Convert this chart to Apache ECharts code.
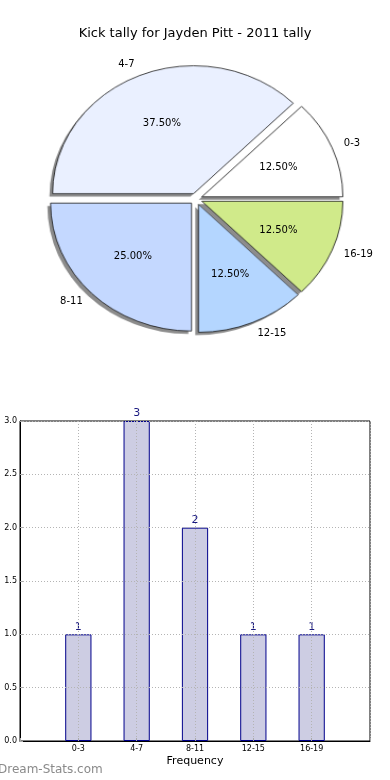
<!DOCTYPE html>
<html>
<head>
<meta charset="utf-8">
<script src="https://cdn.jsdelivr.net/npm/echarts@6/dist/echarts.min.js"></script>
<style>
html,body{margin:0;padding:0;background:#fff;}
#wrap{position:relative;width:390px;height:780px;overflow:hidden;}
#pie{position:absolute;left:0;top:0;width:390px;height:400px;
  transform-origin:196px 199px;transform:scale(1.06,0.962);}
#c{position:absolute;left:0;top:0;width:390px;height:780px;}
</style>
</head>
<body>
<div id="wrap"><div id="pie"></div><div id="c"></div></div>
<script>
const titleText = 'Kick tally for Jayden Pitt - 2011 tally';
const categories = ['0-3', '4-7', '8-11', '12-15', '16-19'];
const counts = [1, 3, 2, 1, 1];
const sliceColors = ['#ffffff', '#eaf0ff', '#c4d8ff', '#b4d6ff', '#d0ea8a'];

const CX = 196, CY = 199, R = 133, SX = 1.06, SY = 0.962;
const FONT = 'DejaVu Sans';

const pieCommon = {
  type: 'pie', startAngle: 0, clockwise: false,
  selectedMode: 'multiple', selectedOffset: 6,
  emphasis: {disabled: true}
};
const mk = (extra) => categories.map((c, i) => Object.assign({name: c, value: counts[i], selected: true}, extra ? extra(i) : {}));

// ---- pie wedges (elliptical via container scale) ----
const pieChart = echarts.init(document.getElementById('pie'), null, {renderer: 'canvas'});
pieChart.setOption({
  animation: false,
  series: [
    Object.assign({}, pieCommon, {
      center: [CX - 3, CY + 3], radius: [0, R], z: 1, silent: true,
      data: mk(),
      itemStyle: {color: '#8c8c8c', borderWidth: 0},
      label: {show: false}, labelLine: {show: false}
    }),
    Object.assign({}, pieCommon, {
      center: [CX, CY], radius: [0, R], z: 2, silent: true,
      data: mk(i => ({itemStyle: {color: sliceColors[i]}})),
      itemStyle: {borderColor: '#111', borderWidth: 0.8},
      label: {show: false}, labelLine: {show: false}
    })
  ]
});

// ---- main layer: title, labels, bars ----
const xCats = [''].concat(categories).concat(['']);
const barData = ['-'].concat(counts).concat(['-']);

function ellipseShift(outside) {
  return function (p) {
    const r = p.labelRect;
    const cx = r.x + r.width / 2;
    const cy = r.y + r.height / 2;
    let ax = cx, extra = 0;
    if (outside) {
      const right = cx > CX;
      ax = right ? r.x : r.x + r.width;
      extra = right ? -5 : 5;
    }
    return {dx: (ax - CX) * (SX - 1) + extra, dy: (cy - CY) * (SY - 1)};
  };
}

const chart = echarts.init(document.getElementById('c'), null, {renderer: 'canvas'});
chart.setOption({
  animation: false,
  textStyle: {fontFamily: FONT},
  title: {
    text: titleText, left: 'center', top: 22,
    textStyle: {fontFamily: FONT, fontSize: 13, fontWeight: 'normal', color: '#000'}
  },
  graphic: [{
    type: 'text', left: -2, top: 764,
    style: {text: 'Dream-Stats.com', fill: '#8a8a8a', font: '12px "DejaVu Sans"'}
  }],
  grid: {
    left: 20, right: 20, top: 421, bottom: 39,
    show: true, borderColor: '#000', borderWidth: 1, backgroundColor: 'transparent'
  },
  xAxis: {
    type: 'category', data: xCats, boundaryGap: false, z: 5,
    name: 'Frequency', nameLocation: 'middle', nameGap: 15,
    nameTextStyle: {fontFamily: FONT, fontSize: 11, color: '#000'},
    axisLine: {lineStyle: {color: '#000', width: 1}},
    axisTick: {show: true, inside: true, length: 3, lineStyle: {color: '#aaa'}},
    axisLabel: {interval: 0, fontSize: 8, color: '#000', margin: 4, fontFamily: FONT},
    splitLine: {show: true, interval: 0, lineStyle: {color: '#b4b4b4', type: [1, 2], width: 1}}
  },
  yAxis: {
    type: 'value', min: 0, max: 3, interval: 0.5, z: 5,
    axisLine: {show: true, lineStyle: {color: '#000', width: 1}},
    axisTick: {show: true, inside: true, length: 3, lineStyle: {color: '#aaa'}},
    axisLabel: {fontSize: 8, color: '#000', margin: 3, fontFamily: FONT,
      formatter: v => v.toFixed(1)},
    splitLine: {show: true, lineStyle: {color: '#b4b4b4', type: [1, 2], width: 1}}
  },
  series: [
    {
      type: 'bar', data: barData, barWidth: '45%', z: 2,
      itemStyle: {color: '#cdcde3', borderColor: '#00008b', borderWidth: 1},
      label: {show: true, position: 'top', distance: 2, color: '#1a1a80', fontSize: 11, fontFamily: FONT}
    },
    Object.assign({}, pieCommon, {
      center: [CX, CY], radius: [0, R], z: 3, silent: true,
      data: mk(),
      itemStyle: {color: 'rgba(0,0,0,0)', borderWidth: 0},
      label: {show: true, position: 'outside', formatter: '{b}', fontSize: 10, color: '#000', fontFamily: FONT},
      labelLine: {show: false, length: 12, length2: 0},
      labelLayout: ellipseShift(true)
    }),
    Object.assign({}, pieCommon, {
      center: [CX, CY], radius: [18, R], z: 3, silent: true,
      data: mk(),
      itemStyle: {color: 'rgba(0,0,0,0)', borderWidth: 0},
      label: {show: true, position: 'inside', fontSize: 10, color: '#000', fontFamily: FONT,
        formatter: p => p.percent.toFixed(2) + '%'},
      labelLine: {show: false},
      labelLayout: ellipseShift(false)
    })
  ]
});
</script>
</body>
</html>
